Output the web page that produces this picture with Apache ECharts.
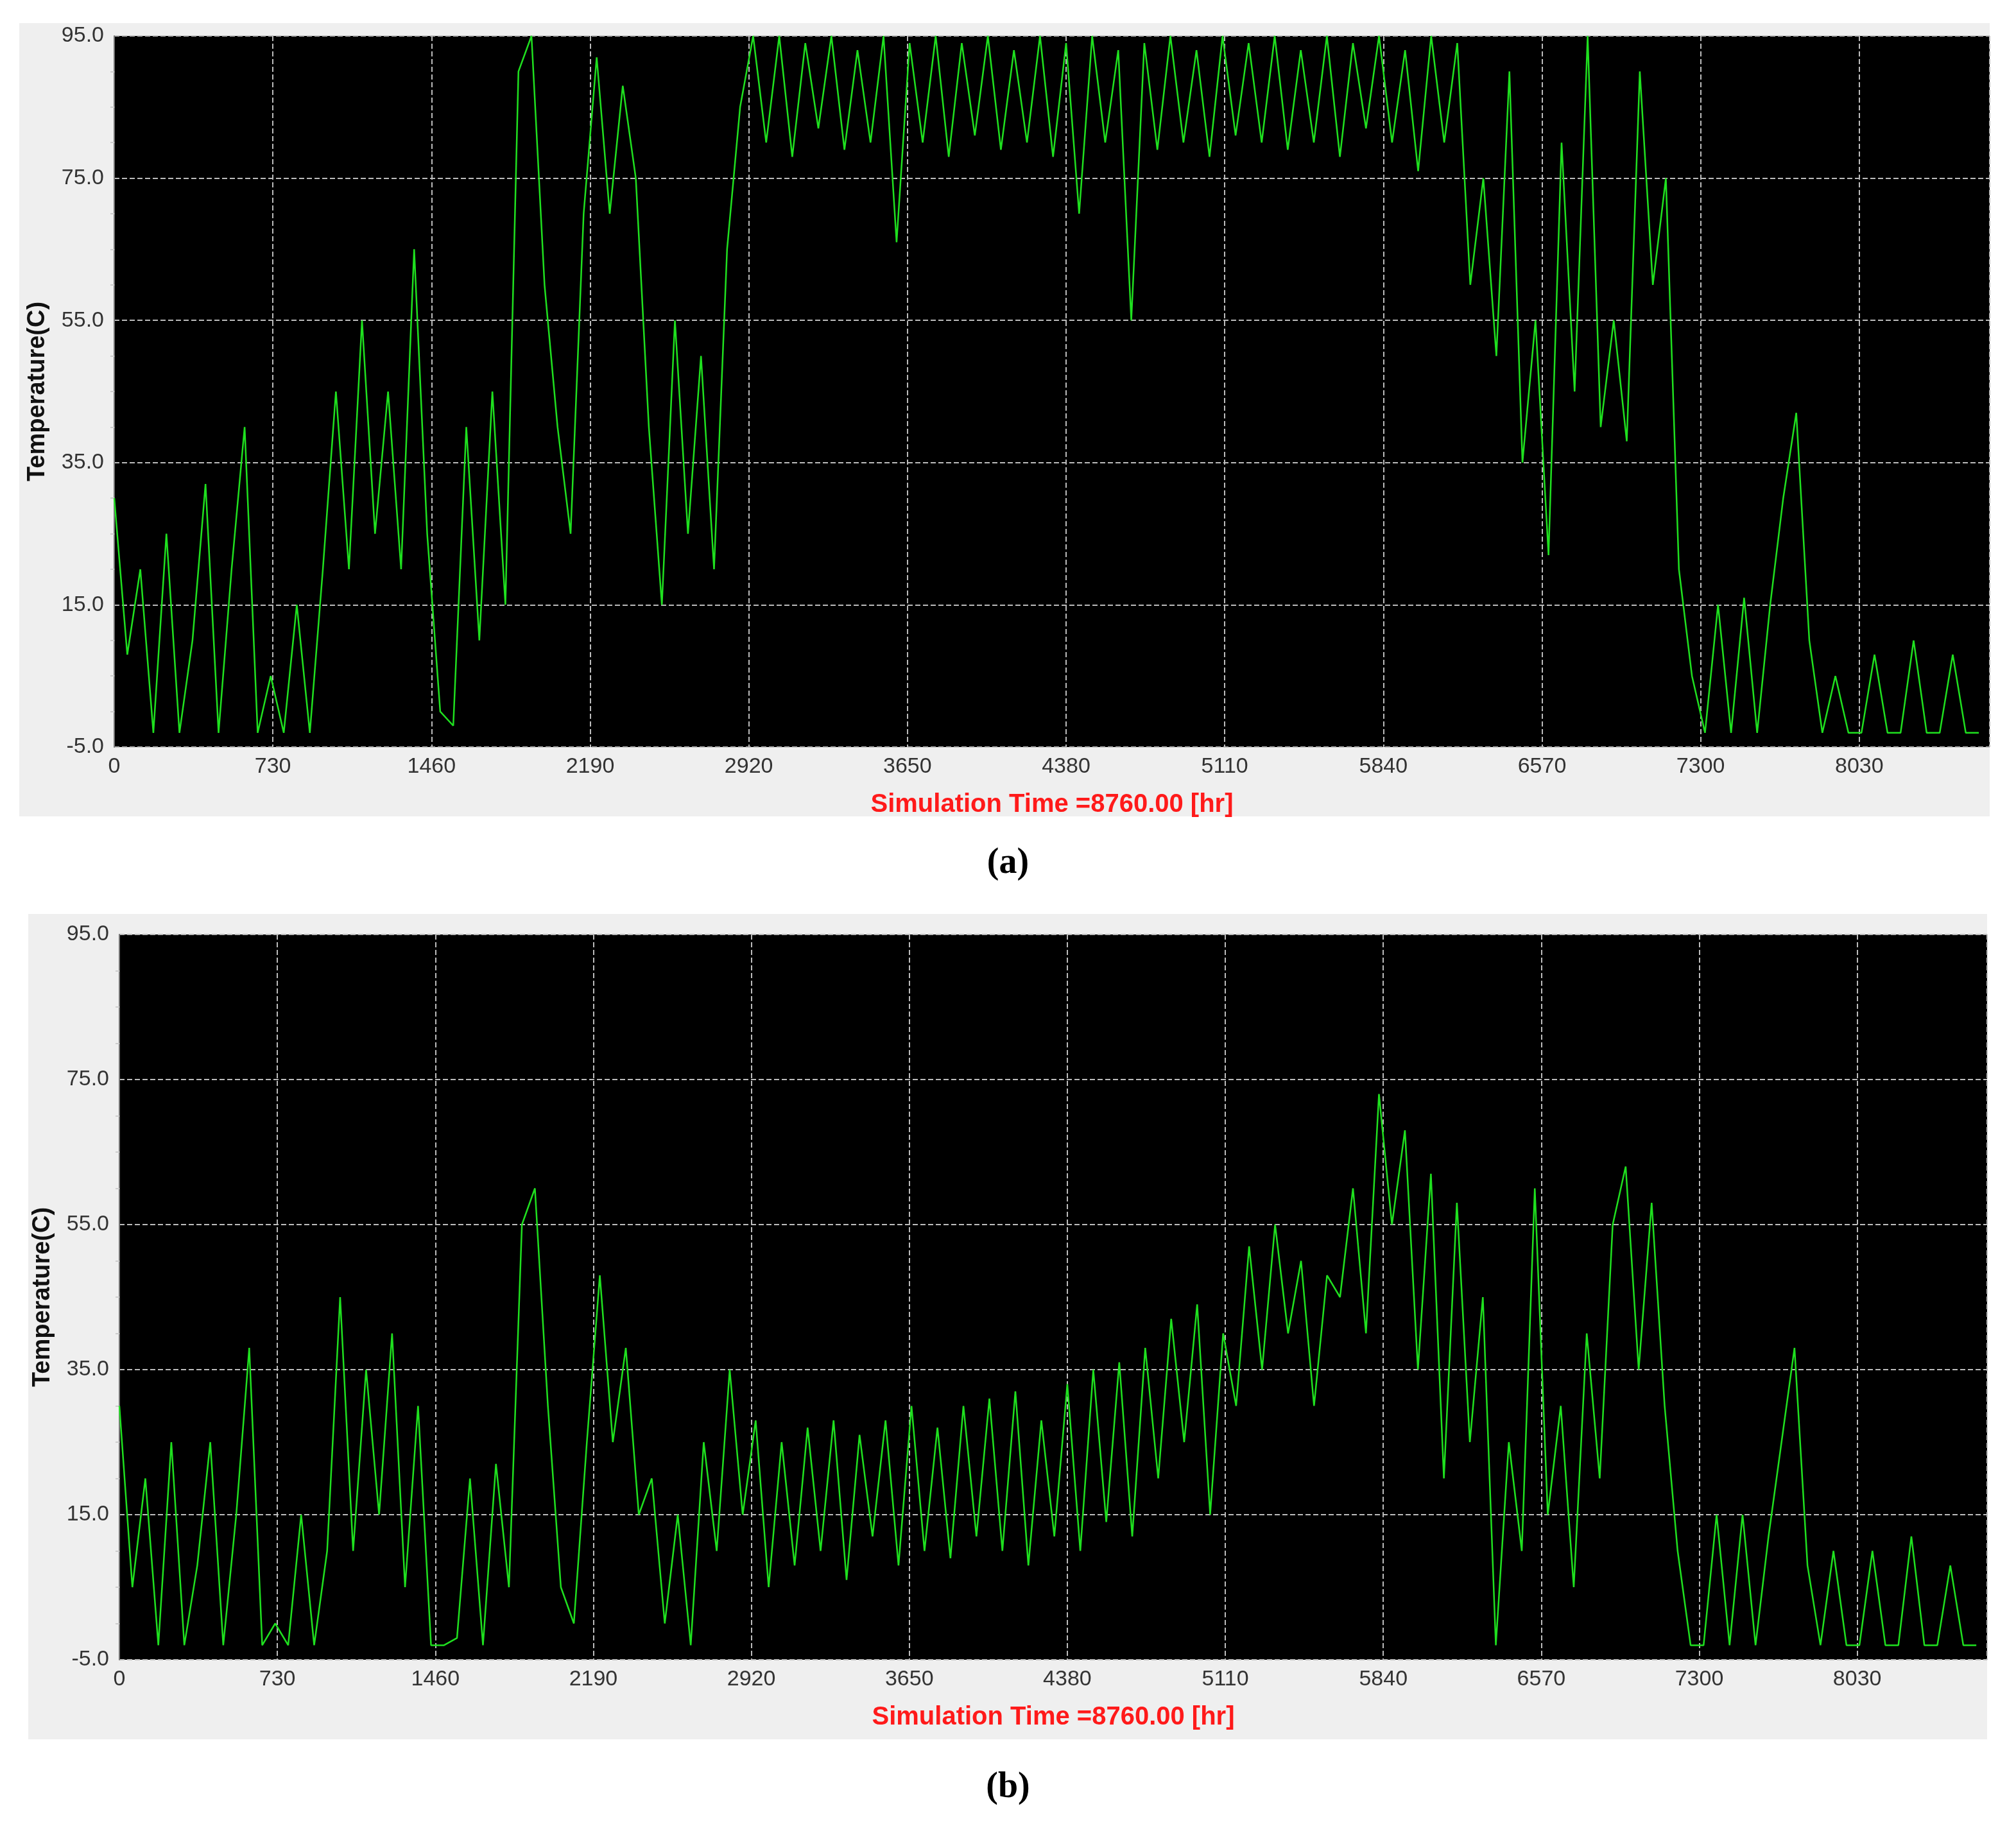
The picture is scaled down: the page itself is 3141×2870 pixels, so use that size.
<!DOCTYPE html>
<html>
<head>
<meta charset="utf-8">
<script src="https://cdn.jsdelivr.net/npm/echarts@6/dist/echarts.min.js"></script>
<style>html,body{margin:0;padding:0;background:#fff}#chart{width:3141px;height:2870px}</style>
</head>
<body>
<div id="chart"></div>
<script>
// hours between samples
var step = 60;
var tempA = [30,8,20,-3,25,-3,10, 32,-3,20,40,-3, 5,-3,15,-3,20,
  45,20,55,25,45,20,65,25, 0,-2, 40,10,45,15, 90,95,60, 40,25,70, 92,70,88,75,
  40,15,55,25, 50,20,65,85, 95,
  80,95,78,94,82,95,79,93,80,95,66,94,80,95,78,94,81,95,79,93,
  80,95,78,94,70,95,80,93,55,94,79,95,80,93,78,95,81,94,80,95,
  79,93,80,95,78,94,82,95,80,93,76,95,80,94,60,
  75,50,90,35,55,22, 80,45,95,40,55, 38,90,60,75, 20,5,
  -3,15,-3,16,-3,15, 30,42, 10,-3,5,-3,-3,8,-3,-3,10,-3,-3,8,-3,-3];
var tempB = [30,5,20,-3,25,-3,8, 25,-3,15,38,-3, 0,-3,15,-3,10,
  45,10,35,15,40,5,30,-3, -3,-2, 20,-3,22,5, 55,60,30, 5,0,25,
  48,25,38,15, 20,0,15,-3, 25,10,35,15, 28,
  5,25,8,27,10,28,6,26,12,28,8,30,10,27,9,30,12,31,10,32,
  8,28,12,33,10,35,14,36,12,38,20,42,25,44,15,40,30,52,35,55,
  40,50,30,48,45,60,40,73,55,68,35,62,20,58,25,
  45,-3,25,10,60,15, 30,5,40,20,55, 63,35,58,30, 10,-3,
  -3,15,-3,15,-3,12, 25,38, 8,-3,10,-3,-3,10,-3,-3,12,-3,-3,8,-3,-3];
var yTicks = [-5, 15, 35, 55, 75, 95];
var xLabelStep = 730;

function pairs(arr){ return arr.map(function(v,i){ return [i*step, v]; }); }

var chart = echarts.init(document.getElementById('chart'));
var font = 'Liberation Sans';
function xAxis(idx){
  return {gridIndex: idx, type:'value', min:0, max:8630, interval:xLabelStep,
    axisLine:{show:false}, axisTick:{show:false},
    axisLabel:{showMaxLabel:false, color:'#333', fontSize:34, fontFamily:font, margin:14,
      formatter:function(v){return String(v);}},
    splitLine:{show:true, lineStyle:{color:'#bbb', type:'dashed', width:2}},
    name:'Simulation Time =8760.00 [hr]', nameLocation:'middle', nameGap:70,
    nameTextStyle:{color:'#ff1a1a', fontSize:40, fontWeight:'bold', fontFamily:font}};
}
function yAxis(idx){
  return {gridIndex: idx, type:'value', min:-5, max:95, interval:20,
    axisLine:{show:true, lineStyle:{color:'#777', width:2}},
    axisTick:{show:false},
    minorTick:{show:true, splitNumber:4, length:6, lineStyle:{color:'#ccc', width:2}},
    axisLabel:{color:'#333', fontSize:34, fontFamily:font, margin:16, formatter:function(v){return v.toFixed(1);}},
    splitLine:{show:true, lineStyle:{color:'#bbb', type:'dashed', width:2}},
    name:'Temperature(C)', nameLocation:'middle', nameGap:100, nameRotate:90,
    nameTextStyle:{color:'#111', fontSize:38, fontWeight:'bold', fontFamily:font}};
}
var option = {
  backgroundColor:'#fff',
  animation:false,
  graphic:[
    {type:'rect', shape:{x:30,y:36,width:3070,height:1236}, style:{fill:'#efefef'}, z:-10},
    {type:'rect', shape:{x:44,y:1424,width:3052,height:1286}, style:{fill:'#efefef'}, z:-10},
    {type:'rect', shape:{x:178,y:56,width:2922,height:1108}, style:{fill:'#000'}, z:-5},
    {type:'rect', shape:{x:186,y:1456,width:2910,height:1130}, style:{fill:'#000'}, z:-5},
    {type:'text', left:'center', top:1318, style:{text:'(a)', font:'bold 56px "Liberation Serif"', fill:'#000'}},
    {type:'text', left:'center', top:2758, style:{text:'(b)', font:'bold 56px "Liberation Serif"', fill:'#000'}}
  ],
  grid:[
    {left:178, top:56, width:2922, height:1108},
    {left:186, top:1456, width:2910, height:1130}
  ],
  xAxis:[xAxis(0), xAxis(1)],
  yAxis:[yAxis(0), yAxis(1)],
  series:[
    {type:'line', xAxisIndex:0, yAxisIndex:0, data:pairs(tempA), showSymbol:false, lineStyle:{color:'#1fe01f', width:2.5}},
    {type:'line', xAxisIndex:1, yAxisIndex:1, data:pairs(tempB), showSymbol:false, lineStyle:{color:'#1fe01f', width:2.5}}
  ]
};
chart.setOption(option);
</script>
</body>
</html>
